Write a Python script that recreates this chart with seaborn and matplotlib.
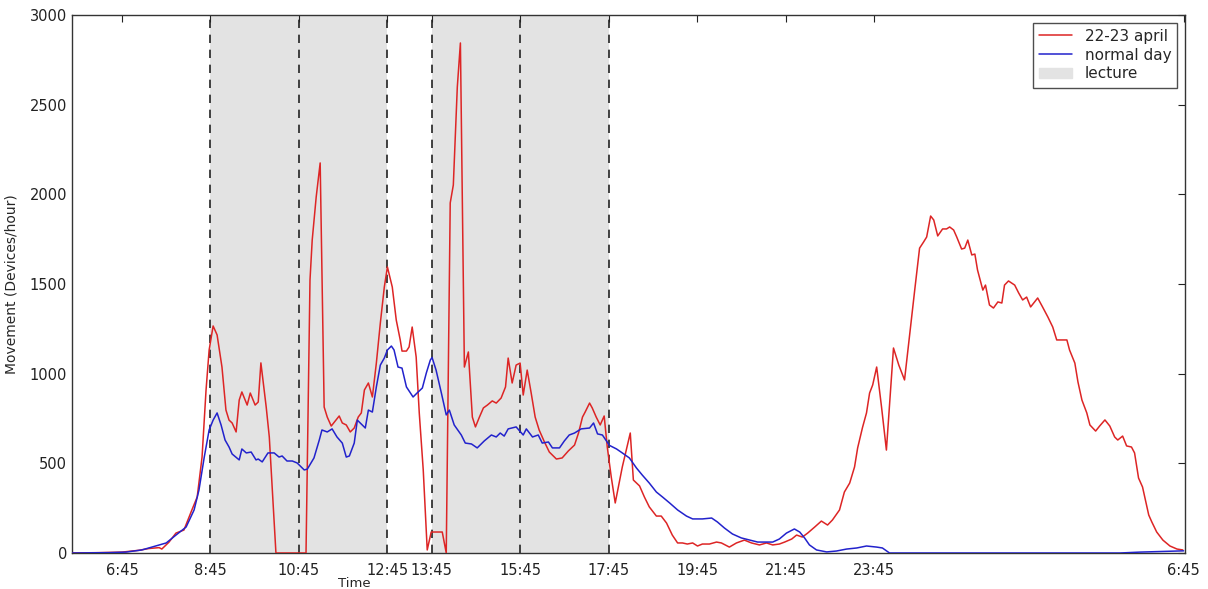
import matplotlib
matplotlib.use("Agg")
import matplotlib.pyplot as plt
import matplotlib.patches as mpatches
import seaborn as sns
import pandas as pd

# time in hours since midnight of 22 april (values > 24 are the next morning)
april_t = [5.60, 6.23, 6.75, 7.13, 7.36, 7.59, 7.65, 7.81, 7.97, 8.15, 8.33, 8.45, 8.56, 8.65,
           8.72, 8.81, 8.90, 9.01, 9.10, 9.17, 9.24, 9.33, 9.40, 9.46, 9.58, 9.65, 9.76, 9.83,
           9.89, 10.01, 10.08, 10.14, 10.23, 10.91, 11.00, 11.05, 11.14, 11.23, 11.32, 11.39,
           11.48, 11.57, 11.66, 11.73, 11.82, 11.91, 12.00, 12.09, 12.16, 12.23, 12.32, 12.41,
           12.50, 12.59, 12.68, 12.75, 12.86, 12.95, 13.04, 13.08, 13.18, 13.24, 13.31, 13.40,
           13.47, 13.56, 13.65, 13.74, 13.99, 14.08, 14.17, 14.24, 14.33, 14.40, 14.49, 14.58,
           14.67, 14.74, 14.83, 14.92, 15.01, 15.12, 15.21, 15.32, 15.42, 15.48, 15.57, 15.66,
           15.75, 15.82, 15.91, 16.00, 16.09, 16.18, 16.30, 16.41, 16.57, 16.70, 16.84, 16.98,
           17.07, 17.16, 17.22, 17.32, 17.38, 17.47, 17.56, 17.65, 17.72, 17.81, 17.90, 18.06,
           18.24, 18.31, 18.45, 18.56, 18.67, 18.83, 18.94, 19.06, 19.19, 19.31, 19.42, 19.53,
           19.65, 19.76, 19.87, 20.03, 20.19, 20.30, 20.48, 20.64, 20.82, 20.98, 21.16, 21.32,
           21.46, 21.61, 21.73, 21.89, 22.00, 22.13, 22.25, 22.41, 22.56, 22.70, 22.81, 22.97,
           23.08, 23.20, 23.31, 23.38, 23.49, 23.58, 23.65, 23.72, 23.81, 23.92, 24.03, 24.19,
           24.31, 24.44, 24.56, 24.67, 24.78, 24.87, 24.94, 25.03, 25.10, 25.19, 25.30, 25.39,
           25.46, 25.55, 25.62, 25.73, 25.80, 25.87, 25.96, 26.03, 26.09, 26.21, 26.27, 26.36,
           26.45, 26.55, 26.64, 26.70, 26.79, 26.93, 27.02, 27.11, 27.20, 27.29, 27.45, 27.56,
           27.68, 27.79, 27.88, 28.11, 28.17, 28.29, 28.36, 28.45, 28.56, 28.63, 28.76, 28.85,
           28.97, 29.08, 29.19, 29.26, 29.37, 29.46, 29.57, 29.64, 29.73, 29.82, 29.96, 30.03,
           30.14, 30.28, 30.44, 30.60, 30.73]
april_v = [0, 2, 5, 15, 25, 30, 22, 60, 111, 128, 240, 312, 535, 908,
           1132, 1266, 1216, 1037, 797, 741, 725, 675, 853, 898, 825, 892, 825, 842,
           1060, 814, 647, 390, 0, 0, 1522, 1745, 1985, 2175, 814, 758,
           708, 736, 764, 725, 714, 675, 697, 758, 781, 909, 948, 870,
           1059, 1282, 1483, 1595, 1483, 1299, 1188, 1126, 1126, 1149, 1260, 1093,
           781, 463, 17, 117, 117, 0, 1952, 2052, 2598, 2844, 1037, 1121,
           758, 703, 758, 809, 825, 848, 836, 864, 926, 1087, 948, 1048,
           1059, 881, 1020, 892, 758, 686, 619, 563, 524, 530, 569, 602,
           669, 758, 786, 836, 809, 758, 714, 764, 591, 424, 279, 480,
           669, 407, 374, 312, 257, 206, 206, 167, 100, 56, 56, 50,
           56, 39, 50, 50, 61, 56, 33, 56, 72, 56, 45, 56,
           45, 50, 61, 78, 100, 89, 111, 145, 178, 156, 184, 240,
           340, 390, 480, 586, 700, 781, 892, 937, 1037, 814, 574, 1143,
           1048, 965, 1227, 1466, 1700, 1734, 1762, 1879, 1857, 1768, 1807, 1807,
           1818, 1801, 1762, 1695, 1700, 1745, 1662, 1667, 1578, 1466, 1494, 1383,
           1366, 1400, 1394, 1494, 1517, 1494, 1450, 1411, 1427, 1372, 1422, 1372,
           1316, 1260, 1188, 1188, 1132, 1059, 954, 853, 781, 714, 680, 708,
           742, 708, 647, 630, 652, 597, 591, 558, 418, 368, 212, 173,
           117, 72, 39, 22, 17]

normal_t = [5.60, 6.46, 6.84, 7.20, 7.59, 7.75, 7.97, 8.20, 8.38, 8.49, 8.61, 8.72, 8.81, 8.90,
            8.99, 9.08, 9.17, 9.24, 9.40, 9.46, 9.56, 9.67, 9.78, 9.83, 9.92, 10.05, 10.19,
            10.30, 10.37, 10.48, 10.60, 10.71, 10.87, 10.94, 11.09, 11.21, 11.27, 11.39, 11.50,
            11.61, 11.73, 11.82, 11.89, 12.00, 12.07, 12.16, 12.25, 12.32, 12.41, 12.50, 12.59,
            12.68, 12.75, 12.84, 12.90, 12.99, 13.08, 13.18, 13.27, 13.33, 13.42, 13.54, 13.63,
            13.72, 13.76, 13.85, 13.97, 14.08, 14.15, 14.26, 14.42, 14.51, 14.65, 14.78, 14.94,
            15.10, 15.21, 15.30, 15.39, 15.48, 15.66, 15.82, 15.89, 16.03, 16.16, 16.25, 16.39,
            16.48, 16.64, 16.75, 16.86, 16.98, 17.13, 17.32, 17.41, 17.50, 17.61, 17.77, 17.93,
            18.06, 18.22, 18.38, 18.51, 18.67, 18.83, 18.97, 19.13, 19.31, 19.51, 19.65, 19.87,
            20.08, 20.21, 20.37, 20.55, 20.75, 20.94, 21.12, 21.46, 21.61, 21.77, 21.95, 22.07,
            22.18, 22.29, 22.45, 22.68, 22.90, 23.13, 23.36, 23.58, 23.81, 23.94, 24.10, 29.31,
            29.76, 30.21, 30.75]
normal_v = [0, 2, 5, 17, 45, 56, 100, 145, 240, 351, 535, 686, 741, 781,
            714, 630, 591, 552, 519, 580, 558, 563, 519, 524, 508, 558, 558,
            535, 541, 513, 513, 502, 463, 468, 530, 630, 686, 675, 692,
            647, 613, 535, 541, 613, 741, 719, 697, 797, 786, 926, 1048,
            1087, 1132, 1154, 1132, 1037, 1031, 926, 892, 870, 892, 920, 1004,
            1076, 1090, 1020, 892, 770, 797, 714, 658, 613, 608, 586, 625,
            658, 647, 669, 652, 692, 703, 658, 692, 647, 658, 613, 619,
            586, 586, 625, 658, 669, 692, 697, 725, 664, 658, 600, 580,
            558, 530, 474, 435, 390, 340, 312, 279, 240, 206, 190, 190,
            195, 173, 139, 106, 84, 72, 61, 61, 78, 111, 134, 117,
            84, 45, 17, 6, 11, 22, 28, 39, 33, 28, 0, 0,
            5, 8, 12]

lecture_start = [8.75, 13.75]
lecture_end = [12.75, 17.75]
dashed_lines = [8.75, 10.75, 12.75, 13.75, 15.75, 17.75]

tick_pos = [6.75, 8.75, 10.75, 12.75, 13.75, 15.75, 17.75, 19.75, 21.75, 23.75, 30.75]
tick_lab = ["6:45", "8:45", "10:45", "12:45", "13:45", "15:45", "17:45", "19:45",
            "21:45", "23:45", "6:45"]

sns.set_style("white")
plt.rcParams['font.family'] = ['DejaVu Sans']

fig = plt.figure(figsize=(12.08, 5.89), dpi=100)
ax = fig.add_axes([72/1208, 1 - 553/589, (1185-72)/1208, (553-15)/589])

red = "#dd2525"
blue = "#2222cc"
grey = "#e3e3e3"

for s, e in zip(lecture_start, lecture_end):
    ax.axvspan(s, e, color=grey, zorder=0, lw=0)
for x in dashed_lines:
    ax.axvline(x, color="#222222", ls=(0, (5, 4)), lw=1.2, zorder=1)

df_a = pd.DataFrame({"t": april_t, "v": april_v})
df_n = pd.DataFrame({"t": normal_t, "v": normal_v})
sns.lineplot(data=df_a, x="t", y="v", color=red, lw=1.1, ax=ax, estimator=None,
             sort=False, zorder=3)
sns.lineplot(data=df_n, x="t", y="v", color=blue, lw=1.1, ax=ax, estimator=None,
             sort=False, zorder=3)

ax.set_xlim(5.62, 30.78)
ax.set_ylim(0, 3000)
ax.set_xticks(tick_pos)
ax.set_xticklabels(tick_lab)
ax.set_yticks([0, 500, 1000, 1500, 2000, 2500, 3000])
ax.tick_params(direction="in", length=5, width=0.8, labelsize=10.5, top=True, right=True,
               colors="#222222")
ax.tick_params(axis="x", pad=7)
for sp in ax.spines.values():
    sp.set_color("#333333")
    sp.set_linewidth(1.0)

ax.set_xlabel("Time", fontsize=9.5)
ax.xaxis.set_label_coords((354-72)/1113, -0.045)
ax.set_ylabel("Movement (Devices/hour)", fontsize=10)
ax.yaxis.set_label_coords(-0.048, 0.5)

handles = [plt.Line2D([], [], color=red, lw=1.1),
           plt.Line2D([], [], color=blue, lw=1.1),
           mpatches.Patch(color=grey)]
leg = ax.legend(handles, ["22-23 april", "normal day", "lecture"], loc="upper right",
                fontsize=11, frameon=True, fancybox=False, borderaxespad=0.5,
                handlelength=2.2, labelspacing=0.25, borderpad=0.4)
leg.get_frame().set_edgecolor("#222222")
leg.get_frame().set_linewidth(1.0)

fig.savefig("out.png", dpi=100)
